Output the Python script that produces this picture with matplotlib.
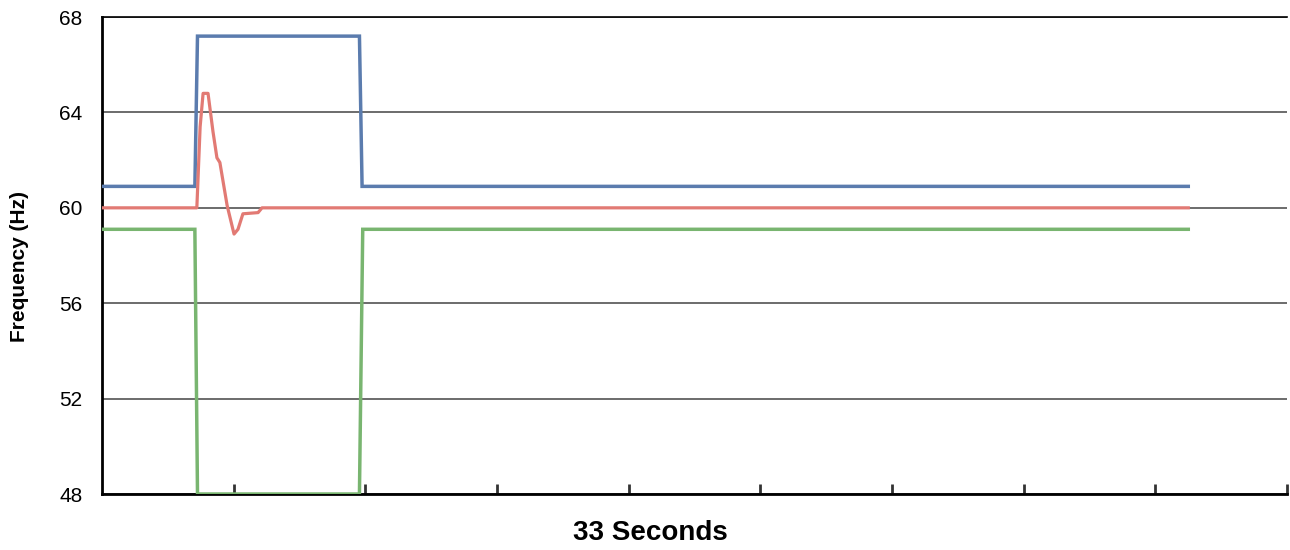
import matplotlib
matplotlib.use("Agg")
import matplotlib.pyplot as plt

# tiempos en segundos
blue_t = [0, 2.82, 2.90, 7.82, 7.90, 33]
blue_v = [60.9, 60.9, 67.2, 67.2, 60.9, 60.9]

green_t = [0, 2.82, 2.90, 7.82, 7.92, 33]
green_v = [59.1, 59.1, 48.0, 48.0, 59.1, 59.1]

red_t = [0, 2.88, 2.98, 3.07, 3.22, 3.37, 3.49, 3.58, 3.80, 4.01, 4.13, 4.28, 4.74, 4.86, 33]
red_v = [60.0, 60.0, 63.4, 64.8, 64.8, 63.2, 62.1, 61.9, 60.1, 58.9, 59.1, 59.75, 59.8, 60.0, 60.0]

y_ticks = [48, 52, 56, 60, 64, 68]
x_ticks = [4, 8, 12, 16, 20, 24, 28, 32, 36]

fig = plt.figure(figsize=(12.9, 5.5), dpi=100)
ax = fig.add_axes([0.0791, 0.1018, 0.9186, 0.8672])

ax.plot(blue_t, blue_v, color='#5b7cae', lw=2.5, solid_joinstyle='miter', zorder=3)
ax.plot(green_t, green_v, color='#79b570', lw=2.5, solid_joinstyle='miter', zorder=3)
ax.plot(red_t, red_v, color='#e27a74', lw=2.3, zorder=4)

ax.set_xlim(0, 36)
ax.set_ylim(48, 68)
ax.set_yticks(y_ticks)
ax.set_yticklabels([str(v) for v in y_ticks], fontsize=15, family='Liberation Sans')
ax.set_xticks(x_ticks)
ax.set_xticklabels([])
ax.tick_params(axis='y', length=0, pad=14)
ax.tick_params(axis='x', direction='in', length=7, width=2, color='#333333')

ax.grid(axis='y', color='#444444', lw=1.1, zorder=1)
ax.set_axisbelow(True)
ax.spines['right'].set_visible(False)
ax.spines['top'].set_linewidth(1.2)
ax.spines['left'].set_linewidth(2)
ax.spines['bottom'].set_linewidth(2)

fig.text(650 / 1290, 1 - 533 / 550, '33 Seconds', ha='center', va='center',
         fontsize=20, fontweight='bold', family='Liberation Sans')
fig.text(20 / 1290, 1 - 267 / 550, 'Frequency (Hz)', ha='center', va='center',
         rotation=90, fontsize=15, fontweight='bold', family='Liberation Sans')

fig.savefig('out.png', dpi=100)
